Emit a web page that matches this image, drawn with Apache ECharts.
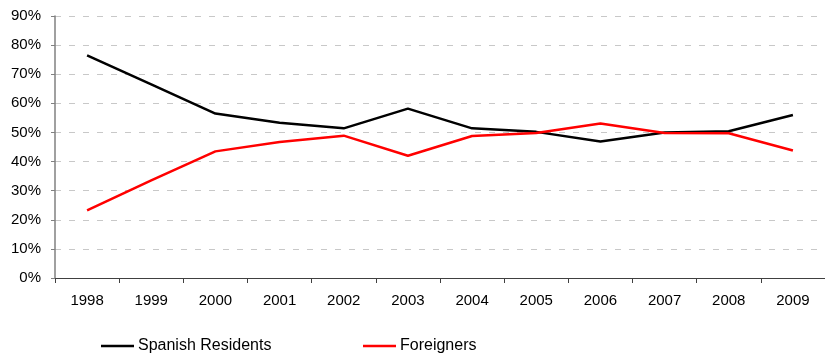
<!DOCTYPE html>
<html><head><meta charset="utf-8">
<script src="https://cdn.jsdelivr.net/npm/echarts@6/dist/echarts.min.js"></script>
<style>html,body{margin:0;padding:0;background:#fff}#c{width:825px;height:356px}</style>
</head><body><div id="c"></div>
<script>
var years = ['1998','1999','2000','2001','2002','2003','2004','2005','2006','2007','2008','2009'];
var spanish = [76.5, 66.5, 56.5, 53.3, 51.4, 58.2, 51.4, 50.2, 46.9, 50.0, 50.4, 56.0];
var foreigners = [23.2, 33.5, 43.5, 46.7, 48.9, 42.0, 48.8, 49.8, 53.1, 49.8, 49.7, 43.8];
var yTicks = [0,10,20,30,40,50,60,70,80,90];
var font = 'Liberation Sans, Arial, sans-serif';
var chart = echarts.init(document.getElementById('c'));
chart.setOption({
  animation: false,
  grid: {left: 55, right: -10, top: 16, bottom: 78, containLabel: false},
  legend: [
    {data: ['Spanish Residents'], left: 101, top: 338, padding: 0, icon: 'rect', itemWidth: 33, itemHeight: 2.5, itemGap: 5,
     textStyle: {fontFamily: font, fontSize: 16, color: '#000', padding: [0,0,0,-1]}},
    {data: ['Foreigners'], left: 363, top: 338, padding: 0, icon: 'rect', itemWidth: 33, itemHeight: 2.5,
     textStyle: {fontFamily: font, fontSize: 16, color: '#000', padding: [0,0,0,-1]}}
  ],
  xAxis: {
    type: 'category', data: years, boundaryGap: true,
    axisLine: {lineStyle: {color: '#404040', width: 1}},
    axisTick: {show: true, length: 5, lineStyle: {color: '#404040'}},
    axisLabel: {fontFamily: font, fontSize: 15, color: '#000', margin: 15},
    splitLine: {show: false}
  },
  yAxis: {
    type: 'value', min: 0, max: 90, interval: 10,
    axisLine: {show: true, lineStyle: {color: '#808080', width: 1.5}},
    axisTick: {show: true, length: 4, lineStyle: {color: '#808080'}},
    axisLabel: {fontFamily: font, fontSize: 15, color: '#000', margin: 14, formatter: function(v){return v + '%';}},
    splitLine: {show: true, lineStyle: {color: '#c8c8c8', type: [6, 8], width: 1}}
  },
  series: [
    {name: 'Spanish Residents', type: 'line', data: spanish, showSymbol: false, symbol: 'none',
     lineStyle: {color: '#000', width: 2.5}, itemStyle: {color: '#000'}},
    {name: 'Foreigners', type: 'line', data: foreigners, showSymbol: false, symbol: 'none',
     lineStyle: {color: '#ff0000', width: 2.5}, itemStyle: {color: '#ff0000'}}
  ]
});
</script></body></html>
